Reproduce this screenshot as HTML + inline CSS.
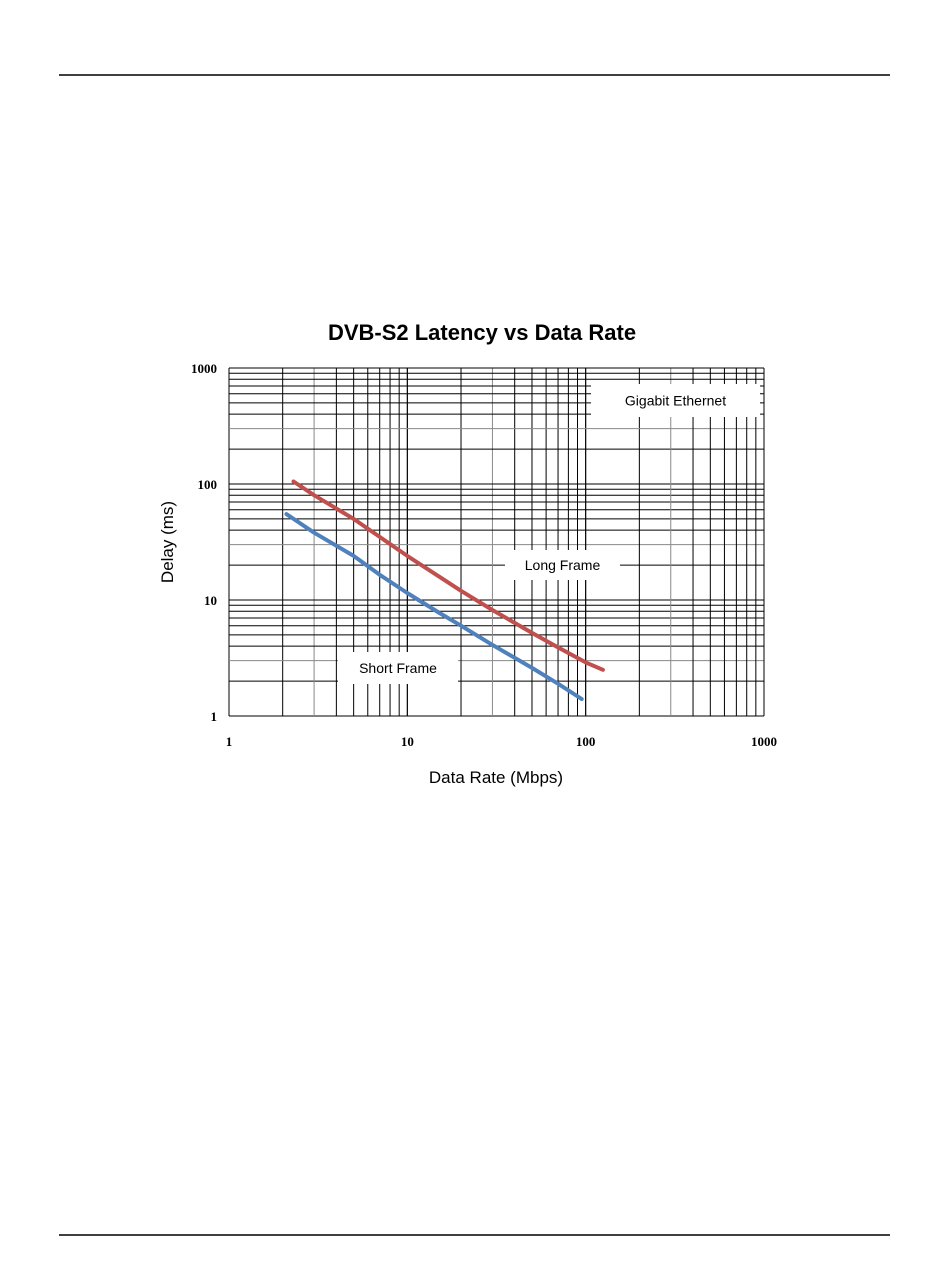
<!DOCTYPE html>
<html><head><meta charset="utf-8"><style>
body{margin:0;background:#fff;width:950px;height:1267px;overflow:hidden;font-family:"Liberation Sans",sans-serif}
</style></head><body>
<svg id="c" width="950" height="1267" xmlns="http://www.w3.org/2000/svg">
<line x1="59" y1="75" x2="890" y2="75" stroke="#000" stroke-width="1.5"/>
<line x1="59" y1="1235" x2="890" y2="1235" stroke="#000" stroke-width="1.5"/>
<text x="482" y="340" text-anchor="middle" font-size="22" font-weight="bold">DVB-S2 Latency vs Data Rate</text>
<text x="496" y="783" text-anchor="middle" font-size="17">Data Rate (Mbps)</text>
<text transform="translate(173,542) rotate(-90)" text-anchor="middle" font-size="17">Delay (ms)</text>
<g id="grid"></g><g id="ticks"></g><g id="boxes"></g><g id="series"></g>
</svg>
<script>
const xTicks=[1,10,100,1000];
const yTicks=[1,10,100,1000];
const longX=[2.3,3,5,7,10,15,20,30,50,70,100,125];
const longY=[105,80,50,35,24,16,12,8.2,5.2,3.9,2.9,2.5];
const shortX=[2.1,3,5,7,10,15,20,30,50,70,95];
const shortY=[55,38,24,16.5,11.5,7.8,6,4.1,2.6,1.9,1.4];
const X0=229,X1=764,Y0=716,Y1=368;
const sx=v=>X0+(Math.log10(v)/3)*(X1-X0);
const sy=v=>Y0-(Math.log10(v)/3)*(Y0-Y1);
const NS="http://www.w3.org/2000/svg";
function mk(t,a,p){const e=document.createElementNS(NS,t);for(const k in a)e.setAttribute(k,a[k]);p.appendChild(e);return e;}
const g=document.getElementById('grid');
for(let d=0;d<3;d++){for(let m=1;m<=10;m++){const v=m*Math.pow(10,d);
 const gray=(m===3);
 const lx=mk('line',{x1:sx(v),x2:sx(v),y1:Y1,y2:Y0,stroke:gray?'#888':'#000','stroke-width':1},g);
 
 
 const ly=mk('line',{x1:X0,x2:X1,y1:sy(v),y2:sy(v),stroke:gray?'#888':'#000','stroke-width':1},g);
 
 
}}
const t=document.getElementById('ticks');
xTicks.forEach(v=>{const e=mk('text',{x:sx(v),y:746,'text-anchor':'middle','font-size':13,'font-family':'Liberation Serif, serif','font-weight':'bold'},t);e.textContent=v;
 
 });
yTicks.forEach(v=>{const e=mk('text',{x:217,y:sy(v)+5,'text-anchor':'end','font-size':13,'font-family':'Liberation Serif, serif','font-weight':'bold'},t);e.textContent=v;
 
 });
const b=document.getElementById('boxes');
[[591,384,169,33,'Gigabit Ethernet','gigabit-ethernet-label'],[505,550,115,30,'Long Frame','long-frame-label'],[338,652,120,32,'Short Frame','short-frame-label']].forEach(r=>{
 const rc=mk('rect',{x:r[0],y:r[1],width:r[2],height:r[3],fill:'#fff'},b);
 
 
 const tx=mk('text',{x:r[0]+r[2]/2,y:r[1]+r[3]/2+5,'text-anchor':'middle','font-size':14},b);tx.textContent=r[4];
 
 
});
const s=document.getElementById('series');
function line(xs,ys,col,name){const d=xs.map((x,i)=>(i?'L':'M')+sx(x).toFixed(1)+','+sy(ys[i]).toFixed(1)).join('');
 const p=mk('path',{d:d,fill:'none',stroke:col,'stroke-width':4,'stroke-linejoin':'round','stroke-linecap':'round'},s);
 
 }
line(longX,longY,'#c0504d','long-frame-line');
line(shortX,shortY,'#4f81bd','short-frame-line');
</script>
</body></html>
